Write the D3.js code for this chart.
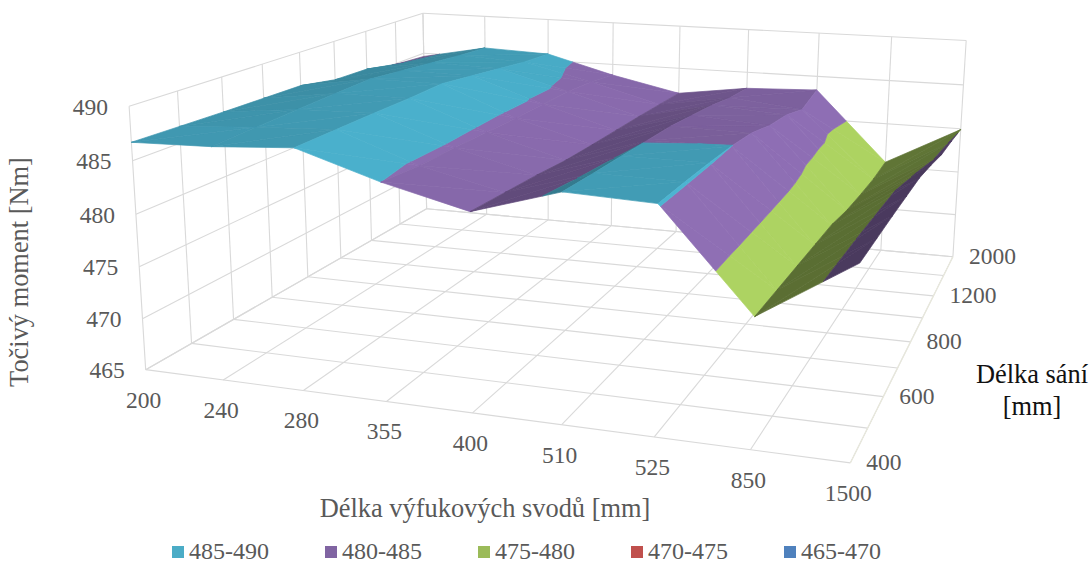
<!DOCTYPE html>
<html><head><meta charset="utf-8">
<style>html,body{margin:0;padding:0;background:#fff}svg{display:block}text{font-family:"Liberation Serif","Times New Roman",serif}</style>
<script src="https://cdnjs.cloudflare.com/ajax/libs/d3/7.8.5/d3.min.js"></script>
</head><body><script>
// ---- data ----
const exhaustLengths = [200,240,280,355,400,510,525,850,1500];
const intakeLengths  = [400,500,600,700,800,1000,1200,1600,2000];
const intakeTickLabels = [400,600,800,1200,2000];
const torqueTicks = [465,470,475,480,485,490];
const intake400  = [486.7,486.9,487.4,485.0,483.1,485.5,485.2,476.5,481.8];
const intake500  = [486.6,487.1,487.45,484.7,482.9,485.3,485.2,476.4,481.75];
const intake600  = [486.5,487.3,487.5,484.7,482.7,485.15,485.15,476.3,481.7];
const intake700  = [486.45,487.45,487.5,484.6,482.4,484.97,485.02,476.2,481.6];
const intake800  = [486.4,487.6,487.6,484.5,482.3,484.8,484.7,476.1,481.5];
const intake1000 = [485.7,487.2,487.1,484.5,482.25,484.4,483.9,475.6,481.0];
const intake1200 = [485.6,486.8,486.6,484.5,482.2,484.0,483.5,475.4,480.4];
const intake1600 = [484.9,486.4,486.1,484.2,482.1,483.4,482.6,475.3,480.2];
const intake2000 = [484.6,486.1,485.8,483.7,482.0,483.1,483.4,475.5,479.9];
const torque = [intake400,intake500,intake600,intake700,intake800,intake1000,intake1200,intake1600,intake2000];
const bandTopColors = ["#4F81BD","#C0504D","#AED462","#8F6FB5","#4CB5D2"];
const legendOrder = [[ "485-490","#4BACC6"],["480-485","#8064A2"],["475-480","#9BBB59"],["470-475","#C0504D"],["465-470","#4F81BD"]];

// ---- scales ----
const W=1092,H=563;
const xS=d3.scalePoint().domain(exhaustLengths).range([0,1]);
const yS=d3.scalePoint().domain(intakeLengths).range([0,1]);
const zS=d3.scaleLinear().domain([465,490]).range([0,1]);

// ---- camera: projective fit of the chart box (u,v,w,x,y,weight) ----
const anchors=[[0,0,0,145,369,8],[1,0,0,852,461,8],[0,1,0,427,209,8],[1,1,0,953,256,8],[0,0,1,129,107,8],[0,1,1,423,13,8],[1,1,1,966,40,8],
 [.5,0,0,474,412,1],[0,.5,0,307,277,1],[.5,1,0,677,230,1],[1,.5,0,898,367,1],[.5,1,1,681,27,1],[0,.5,1,300,53,1]];
function fit(){
 const n=11,A=d3.range(n).map(()=>new Array(n+1).fill(0));
 const add=(r,b,g)=>{for(let i=0;i<n;i++){for(let j=0;j<n;j++)A[i][j]+=g*r[i]*r[j];A[i][n]+=g*r[i]*b;}};
 anchors.forEach(([X,Y,Z,x,y,g])=>{
  add([X,Y,Z,1,0,0,0,0,-x*X,-x*Y,-x*Z],x,g);
  add([0,0,0,0,X,Y,Z,1,-y*X,-y*Y,-y*Z],y,g);
 });
 for(let c=0;c<n;c++){
  let m=c;for(let r=c+1;r<n;r++)if(Math.abs(A[r][c])>Math.abs(A[m][c]))m=r;
  [A[c],A[m]]=[A[m],A[c]];
  for(let r=0;r<n;r++){if(r===c)continue;const f=A[r][c]/A[c][c];for(let k=c;k<=n;k++)A[r][k]-=f*A[c][k];}
 }
 return d3.range(n).map(i=>A[i][n]/A[i][i]);
}
const P=fit();
function proj(u,v,w){const d=P[8]*u+P[9]*v+P[10]*w+1;
 return [(P[0]*u+P[1]*v+P[2]*w+P[3])/d,(P[4]*u+P[5]*v+P[6]*w+P[7])/d];}

const svg=d3.select("body").append("svg").attr("width",W).attr("height",H);
const line=d3.line();

// ---- grid ----
const grid=svg.append("g").attr("fill","none").attr("stroke","#D9D9D9").attr("stroke-width",1.1);
const seg=(a,b,col)=>grid.append("path").attr("d",line([proj(...a),proj(...b)])).attr("stroke",col||null);
exhaustLengths.forEach(c=>{const u=xS(c);
 seg([u,0,0],[u,1,0]);seg([u,1,0],[u,1,1]);});
intakeLengths.forEach(c=>{const v=yS(c);
 seg([0,v,0],[1,v,0]);seg([0,v,0],[0,v,1]);});
torqueTicks.forEach(t=>{const w=zS(t);
 seg([0,0,w],[0,1,w]);seg([0,1,w],[1,1,w]);});
seg([1,0,0],[1,1,0],"#E9E9DC");

// ---- surface ----
const VIEW_U=100,VIEW_V=100,VIEW_W=40;
const shade=d3.scaleLinear().domain([-.6,-.3,-.05,.05,.3,.8]).range([.50,.68,.84,.87,.97,1]).clamp(true);
function quadNormal(q){
 const d1=[(q[2][0]-q[0][0])*VIEW_U,(q[2][1]-q[0][1])*VIEW_V,(q[2][2]-q[0][2])*VIEW_W];
 const d2=[(q[3][0]-q[1][0])*VIEW_U,(q[3][1]-q[1][1])*VIEW_V,(q[3][2]-q[1][2])*VIEW_W];
 const n=[d1[1]*d2[2]-d1[2]*d2[1],d1[2]*d2[0]-d1[0]*d2[2],d1[0]*d2[1]-d1[1]*d2[0]];
 const l=Math.hypot(...n)||1;const s=n[2]<0?-1:1;return n.map(a=>s*a/l);
}
function clip(poly,lo,hi){
 const cut=(pts,lim,keep)=>{const out=[];pts.forEach((p,i)=>{const q=pts[(i+1)%pts.length];
   const kp=keep(p[2]),kq=keep(q[2]);if(kp)out.push(p);
   if(kp!==kq){const t=(lim-p[2])/(q[2]-p[2]);
     out.push([p[0]+t*(q[0]-p[0]),p[1]+t*(q[1]-p[1]),lim]);}
 });return out;};
 let r=cut(poly,lo,z=>z>=lo);if(r.length)r=cut(r,hi,z=>z<=hi);return r;
}
const surf=svg.append("g");
function vertex(i,j){return [xS(exhaustLengths[i]),yS(intakeLengths[j]),zS(torque[j][i])];}
for(let j=intakeLengths.length-2;j>=0;j--){
 for(let i=0;i<exhaustLengths.length-1;i++){
  const q=[vertex(i,j),vertex(i+1,j),vertex(i+1,j+1),vertex(i,j+1)];
  const n=quadNormal(q);
  const b=shade(n[0]-.3*n[1]);
  [[q[0],q[1],q[2]],[q[0],q[2],q[3]]].forEach(tri=>{
   bandTopColors.forEach((c,k)=>{
    const lo=zS(465+5*k),hi=zS(470+5*k);
    const poly=clip(tri,lo,hi);
    if(poly.length<3)return;
    const col=d3.rgb(c);
    const f=`rgb(${col.r*b},${col.g*b},${col.b*b})`;
    surf.append("path").attr("d",line(poly.map(p=>proj(...p)))+"Z")
     .attr("fill",f).attr("stroke",f).attr("stroke-width",.7).attr("stroke-linejoin","round");
   });
  });
 }
}

// ---- labels ----
const tickFill="#595959",fs=23.5,ts=26.4;
const labels=svg.append("g").attr("fill",tickFill).attr("font-size",fs);
exhaustLengths.forEach(c=>{const p=proj(xS(c),0,0);
 labels.append("text").attr("x",p[0]-2).attr("y",p[1]+32.5).attr("text-anchor","middle").attr("dominant-baseline","middle").text(c);});
intakeTickLabels.forEach(c=>{const p=proj(1,yS(c),0);
 labels.append("text").attr("x",p[0]+16).attr("y",p[1]+2).attr("dominant-baseline","middle").text(c);});
torqueTicks.forEach(t=>{const p=proj(0,0,zS(t));
 labels.append("text").attr("x",p[0]-21).attr("y",p[1]+3).attr("text-anchor","end").attr("dominant-baseline","middle").text(t);});
labels.append("text").attr("x",485).attr("y",511).attr("text-anchor","middle").attr("dominant-baseline","middle").attr("font-size",ts).text("Délka výfukových svodů [mm]");
labels.append("text").attr("transform","translate(22,272) rotate(-90)").attr("text-anchor","middle").attr("dominant-baseline","middle").attr("font-size",ts).text("Točivý moment [Nm]");
const side=svg.append("g").attr("fill","#111").attr("font-size",ts).attr("text-anchor","middle");
side.append("text").attr("x",1032).attr("y",377).attr("dominant-baseline","middle").text("Délka sání");
side.append("text").attr("x",1032).attr("y",409).attr("dominant-baseline","middle").text("[mm]");

// ---- legend ----
const legendX=d3.scalePoint().domain(legendOrder.map(d=>d[0])).range([172,784]);
const lg=svg.append("g");
legendOrder.forEach(([n,c])=>{
 lg.append("rect").attr("x",legendX(n)).attr("y",546).attr("width",12).attr("height",12).attr("fill",c);
 lg.append("text").attr("x",legendX(n)+17).attr("y",553).attr("dominant-baseline","middle").attr("fill",tickFill).attr("font-size",24).text(n);
});
</script></body></html>
